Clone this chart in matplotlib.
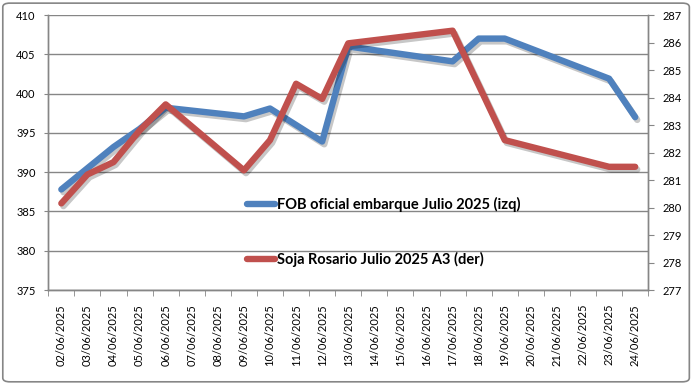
import numpy as np
import pandas as pd
import matplotlib
matplotlib.use("Agg")
import matplotlib.pyplot as plt
import matplotlib.patheffects as pe
from matplotlib.patches import FancyBboxPatch

plt.rcParams['font.family'] = ['Lato', 'DejaVu Sans']

# Axis categories (every calendar day shown)
axis_dates = pd.date_range("2025-06-02", "2025-06-24", freq="D")
axis_labels = [d.strftime("%d/%m/%Y") for d in axis_dates]

# Trading days with data
data_dates = ["2025-06-02", "2025-06-03", "2025-06-04", "2025-06-05", "2025-06-06",
              "2025-06-09", "2025-06-10", "2025-06-11", "2025-06-12", "2025-06-13",
              "2025-06-17", "2025-06-18", "2025-06-19", "2025-06-23", "2025-06-24"]
fob_julio = [387.8, 390.5, 393.2, 395.5, 398.2,
             397.1, 398.1, 396.0, 393.9, 406.0,
             404.1, 407.0, 407.0, 401.9, 397.0]
soja_rosario = [280.15, 281.2, 281.65, 282.8, 283.75,
                281.35, 282.45, 284.5, 283.95, 285.97,
                286.43, 284.45, 282.45, 281.48, 281.48]

fob_label = "FOB oficial embarque Julio 2025 (izq)"
soja_label = "Soja Rosario Julio 2025 A3 (der)"

blue = "#4F81BD"
red = "#C0504D"
grid_gray = "#868686"

x_data = (pd.to_datetime(data_dates) - axis_dates[0]).days.values
x_axis = np.arange(len(axis_dates))

fig = plt.figure(figsize=(6.97, 3.92), dpi=100, facecolor='white')
ax = fig.add_axes([0.0693, 0.2602, 0.8607, 0.7015])
ax2 = ax.twinx()

shadow = [pe.SimpleLineShadow(offset=(1.5, -2.0), shadow_color='black', alpha=0.22),
          pe.Normal()]

l1, = ax.plot(x_data, fob_julio, color=blue, linewidth=4.6,
              solid_joinstyle='round', solid_capstyle='round',
              path_effects=shadow, zorder=3, label=fob_label)
l2, = ax2.plot(x_data, soja_rosario, color=red, linewidth=4.6,
               solid_joinstyle='round', solid_capstyle='round',
               path_effects=shadow, zorder=3, label=soja_label)

# Left axis
ax.set_ylim(375, 410)
ax.set_yticks(np.arange(375, 411, 5))
ax.yaxis.grid(True, color=grid_gray, linewidth=1.0)
ax.set_axisbelow(True)

# Right axis
ax2.set_ylim(277, 287)
ax2.set_yticks(np.arange(277, 288, 1))

# X axis: category labels centred, ticks on category boundaries
ax.set_xlim(-0.5, len(axis_dates) - 0.5)
ax.set_xticks(x_axis)
ax.set_xticklabels(axis_labels, rotation=90)
ax.set_xticks(np.arange(-0.5, len(axis_dates), 1), minor=True)
ax.tick_params(axis='x', which='major', length=0, pad=10)
ax.tick_params(axis='x', which='minor', length=4, color=grid_gray, direction='out')

for a in (ax, ax2):
    for side in a.spines:
        a.spines[side].set_color(grid_gray)
        a.spines[side].set_linewidth(1.0)
    a.spines['top'].set_visible(False)
ax.tick_params(axis='y', length=3, color=grid_gray, labelsize=8, pad=6)
ax.tick_params(axis='x', labelsize=8)
ax2.tick_params(axis='y', length=4, color=grid_gray, labelsize=8, pad=6)

leg = ax.legend([l1, l2], [fob_label, soja_label], loc='upper left',
                bbox_to_anchor=(0.31, 0.385), frameon=False,
                handlelength=1.9, handletextpad=0.15, labelspacing=2.75,
                prop={'weight': 'bold', 'size': 10.5})
for h in leg.legend_handles:
    h.set_path_effects([])
    h.set_solid_capstyle('round')

# Outer chart border
border = FancyBboxPatch((0.004, 0.026), 0.985, 0.966,
                        boxstyle="round,pad=0,rounding_size=0.01",
                        transform=fig.transFigure, facecolor='none',
                        edgecolor=grid_gray, linewidth=1.2)
fig.patches.append(border)

fig.savefig("out.png", dpi=100, facecolor='white')
